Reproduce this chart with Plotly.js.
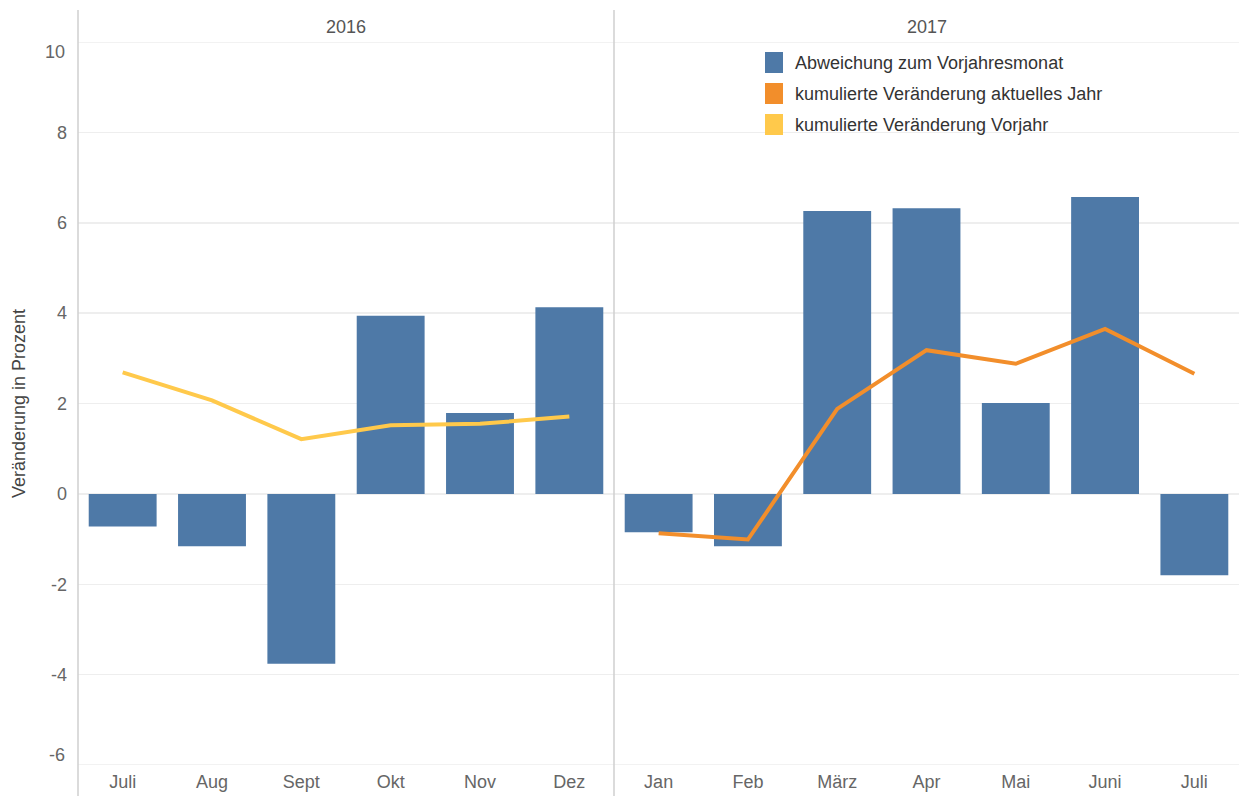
<!DOCTYPE html>
<html><head><meta charset="utf-8">
<script src="https://cdn.plot.ly/plotly-3.0.1.min.js"></script>
<style>html,body{margin:0;padding:0;background:#fff;}#chart{width:1239px;height:796px;}</style>
</head><body><div id="chart"></div>
<script>
// ---- data ----
const months2016 = ['Juli','Aug','Sept','Okt','Nov','Dez'];
const months2017 = ['Jan','Feb','März','Apr','Mai','Juni','Juli'];
const abweichung2016 = [-0.72, -1.16, -3.76, 3.94, 1.79, 4.13];
const abweichung2017 = [-0.85, -1.16, 6.26, 6.32, 2.01, 6.57, -1.80];
const kumVorjahr2016 = [2.69, 2.07, 1.21, 1.52, 1.55, 1.71];
const kumAktuell2017 = [-0.87, -1.01, 1.88, 3.18, 2.88, 3.65, 2.66];
const panelLabels = ['2016', '2017'];
const yTicks = [-6, -4, -2, 0, 2, 4, 6, 8, 10];
const yTickText = ['-6', '-4', '-2', '0', '2', '4', '6', '8', '10'];
const legendLabels = ['Abweichung zum Vorjahresmonat', 'kumulierte Veränderung aktuelles Jahr', 'kumulierte Veränderung Vorjahr'];

// ---- styles ----
const cBar = '#4e79a7', cOrange = '#f28e2b', cYellow = '#ffc94b';
const FONT = '"Liberation Sans Narrow", "Arial Narrow", "Liberation Sans", Arial, sans-serif';
const W = 1239, H = 796, L = 78, T = 42, B = 31;
const plotW = W - L, plotH = H - T - B;
const split = (614 - L) / plotW;
const px = x => (x - L) / plotW;
const py = y => (H - B - y) / plotH;
const yMin = yTicks[0], yMax = yTicks[yTicks.length - 1];

const traces = [
  {type:'bar', x:months2016, y:abweichung2016, xaxis:'x', yaxis:'y', marker:{color:cBar}, width:0.76, showlegend:false, name:legendLabels[0]},
  {type:'bar', x:months2017, y:abweichung2017, xaxis:'x2', yaxis:'y', marker:{color:cBar}, width:0.76, showlegend:false, name:legendLabels[0]},
  {type:'scatter', mode:'lines', x:months2016, y:kumVorjahr2016, xaxis:'x', yaxis:'y', line:{color:cYellow, width:4}, showlegend:false, name:legendLabels[2]},
  {type:'scatter', mode:'lines', x:months2017, y:kumAktuell2017, xaxis:'x2', yaxis:'y', line:{color:cOrange, width:4}, showlegend:false, name:legendLabels[1]}
];

const xCommon = {type:'category', showgrid:false, zeroline:false, showline:false, ticks:'',
  tickfont:{family:FONT, size:18, color:'#666'}, ticklabelstandoff:4, fixedrange:true};

const shapes = [
  {type:'line', xref:'paper', yref:'y', x0:0, x1:1, y0:yMax, y1:yMax, line:{color:'#eeeeee', width:1.5}, layer:'below'},
  {type:'line', xref:'paper', yref:'y', x0:0, x1:1, y0:yMin, y1:yMin, line:{color:'#eeeeee', width:1.5}, layer:'below'},
  {type:'line', xref:'paper', yref:'y', x0:0, x1:1, y0:0, y1:0, line:{color:'#bdbdbd', width:1, dash:'dot'}, layer:'below'},
  {type:'line', xref:'paper', yref:'paper', x0:0, x1:0, y0:py(796), y1:py(10), line:{color:'#cfcfcf', width:1.5}},
  {type:'line', xref:'paper', yref:'paper', x0:split, x1:split, y0:py(796), y1:py(10), line:{color:'#cfcfcf', width:1.5}}
];
const legendColors = [cBar, cOrange, cYellow];
const annotations = [
  {xref:'paper', yref:'paper', x:split/2, y:py(27), xanchor:'center', yanchor:'middle', text:panelLabels[0], showarrow:false, font:{family:FONT, size:18, color:'#555'}},
  {xref:'paper', yref:'paper', x:(split+1)/2, y:py(27), xanchor:'center', yanchor:'middle', text:panelLabels[1], showarrow:false, font:{family:FONT, size:18, color:'#555'}},
  // edge tick labels, nudged inward like the reference
  {xref:'paper', yref:'paper', x:px(67), y:py(52), xanchor:'right', yanchor:'middle', text:yTickText[yTickText.length-1], showarrow:false, font:{family:FONT, size:18, color:'#666'}},
  {xref:'paper', yref:'paper', x:px(67), y:py(755), xanchor:'right', yanchor:'middle', text:yTickText[0], showarrow:false, font:{family:FONT, size:18, color:'#666'}}
];
legendLabels.forEach((lab, i) => {
  const top = 52 + i * 31;
  shapes.push({type:'rect', xref:'paper', yref:'paper', x0:px(765), x1:px(783), y0:py(top + 21), y1:py(top), fillcolor:legendColors[i], line:{width:0}});
  annotations.push({xref:'paper', yref:'paper', x:px(793), y:py(top + 11), xanchor:'left', yanchor:'middle', text:lab, showarrow:false, font:{family:FONT, size:18, color:'#333'}});
});

const layout = {
  width:W, height:H, margin:{l:L, r:0, t:T, b:B}, paper_bgcolor:'#fff', plot_bgcolor:'#fff',
  bargap:0.24,
  xaxis:Object.assign({domain:[0, split], anchor:'y'}, xCommon),
  xaxis2:Object.assign({domain:[split, 1], anchor:'y'}, xCommon),
  yaxis:{range:[yMin, yMax], tickvals:yTicks.slice(1, -1), ticktext:yTickText.slice(1, -1), showgrid:true, gridcolor:'#eeeeee', gridwidth:1.5, zeroline:false, showline:false, ticks:'',
    tickfont:{family:FONT, size:18, color:'#666'}, ticklabelstandoff:10, fixedrange:true,
    title:{text:'Veränderung in Prozent', font:{family:FONT, size:18, color:'#444'}, standoff:20}},
  shapes:shapes, annotations:annotations, showlegend:false
};
Plotly.newPlot('chart', traces, layout, {displayModeBar:false, staticPlot:true});
</script></body></html>
